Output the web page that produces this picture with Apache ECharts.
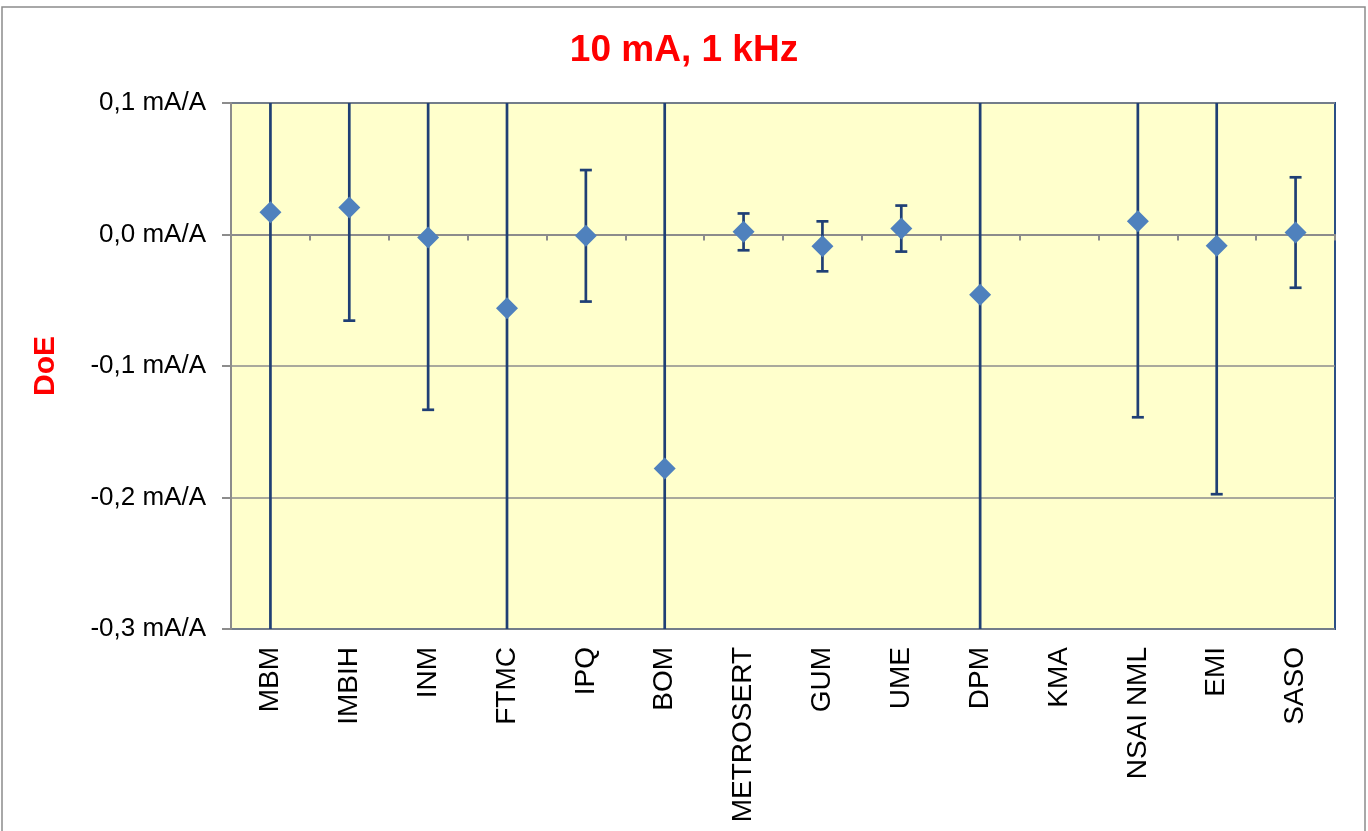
<!DOCTYPE html>
<html>
<head>
<meta charset="utf-8">
<script src="https://cdn.jsdelivr.net/npm/echarts@6/dist/echarts.min.js"></script>
<style>
html,body{margin:0;padding:0;background:#fff;}
#chart{width:1368px;height:831px;}
</style>
</head>
<body>
<div id="chart"></div>
<script>
// Data
const categories = ['MBM','IMBIH','INM','FTMC','IPQ','BOM','METROSERT','GUM','UME','DPM','KMA','NSAI NML','EMI','SASO'];
const doeValues = [0.017, 0.0205, -0.0023, -0.056, -0.001, -0.178, 0.002, -0.009, 0.0045, -0.0458, null, 0.010, -0.0085, 0.0015];
const uncertainties = [0.40, 0.086, 0.131, 0.40, 0.050, 0.35, 0.014, 0.019, 0.0175, 0.35, null, 0.149, 0.189, 0.042];
const yMin = -0.3, yMax = 0.1, yStep = 0.1;

const scatterData = doeValues.map((v, i) => v === null ? [i, '-'] : [i, v]);
const errData = [];
doeValues.forEach((v, i) => { if (v !== null) errData.push([i, v, uncertainties[i]]); });

const chart = echarts.init(document.getElementById('chart'));
const barColor = '#1F3F75';
const FONT = 'Liberation Sans, Arial, sans-serif';

const option = {
  backgroundColor: '#ffffff',
  animation: false,
  title: {
    text: '10 mA, 1 kHz',
    left: 'center',
    top: 27,
    textStyle: { color: '#FF0000', fontSize: 37, fontWeight: 'bold', fontFamily: FONT }
  },
  graphic: [{
    type: 'rect',
    shape: { x: 2, y: 7, width: 1363, height: 840 },
    style: { fill: 'none', stroke: '#8C8C8C', lineWidth: 1.5 },
    silent: true, z: -10
  }],
  grid: {
    left: 231, top: 103, right: 33, bottom: 202,
    show: true, backgroundColor: '#FFFFCC', borderColor: '#2B4F85', borderWidth: 2,
    containLabel: false
  },
  xAxis: [{
    type: 'category',
    data: categories,
    position: 'bottom',
    boundaryGap: true,
    axisLine: { show: false, onZero: false },
    axisTick: { show: false },
    splitLine: { show: false },
    axisLabel: {
      rotate: 90, margin: 18, color: '#000', fontSize: 28,
      fontFamily: FONT, interval: 0
    }
  }, {
    type: 'category',
    data: categories,
    position: 'bottom',
    boundaryGap: true,
    axisLine: { show: true, onZero: true, lineStyle: { color: '#8C8C8C', width: 2 } },
    axisTick: { show: true, interval: 0, length: 6, inside: false, lineStyle: { color: '#8C8C8C', width: 2 } },
    axisLabel: { show: false, interval: 0 },
    splitLine: { show: false }
  }],
  yAxis: {
    type: 'value',
    min: yMin, max: yMax, interval: yStep,
    name: 'DoE',
    nameLocation: 'middle',
    nameGap: 170,
    nameRotate: 90,
    nameTextStyle: { color: '#FF0000', fontSize: 30, fontWeight: 'bold', fontFamily: FONT },
    axisLine: { show: true, lineStyle: { color: '#8C8C8C', width: 2 } },
    axisTick: { show: true, length: 9, lineStyle: { color: '#8C8C8C', width: 2 } },
    splitLine: { show: true, lineStyle: { color: '#8C8C8C', width: 1.5 } },
    axisLabel: {
      color: '#000', fontSize: 26, margin: 25,
      fontFamily: FONT,
      formatter: v => (Math.round(v * 10) / 10).toFixed(1).replace('.', ',').replace('-0,0', '0,0') + ' mA/A'
    }
  },
  series: [{
    type: 'custom',
    xAxisIndex: 0,
    data: errData,
    z: 3,
    renderItem: function (params, api) {
      const x = api.value(0), v = api.value(1), u = api.value(2);
      let hi = v + u, lo = v - u;
      const hiClip = hi > yMax, loClip = lo < yMin;
      hi = Math.min(hi, yMax); lo = Math.max(lo, yMin);
      const pHi = api.coord([x, hi]);
      const pLo = api.coord([x, lo]);
      const cw = 6;
      const st = { stroke: barColor, lineWidth: 2.7 };
      const children = [{ type: 'line', shape: { x1: pHi[0], y1: pHi[1], x2: pLo[0], y2: pLo[1] }, style: st }];
      if (!hiClip) children.push({ type: 'line', shape: { x1: pHi[0] - cw, y1: pHi[1], x2: pHi[0] + cw, y2: pHi[1] }, style: st });
      if (!loClip) children.push({ type: 'line', shape: { x1: pLo[0] - cw, y1: pLo[1], x2: pLo[0] + cw, y2: pLo[1] }, style: st });
      return { type: 'group', children: children };
    }
  }, {
    type: 'scatter',
    xAxisIndex: 0,
    data: scatterData,
    symbol: 'diamond',
    symbolSize: [22, 22],
    itemStyle: { color: '#4F81BD', opacity: 1 },
    z: 5
  }]
};
chart.setOption(option);
</script>
</body>
</html>
